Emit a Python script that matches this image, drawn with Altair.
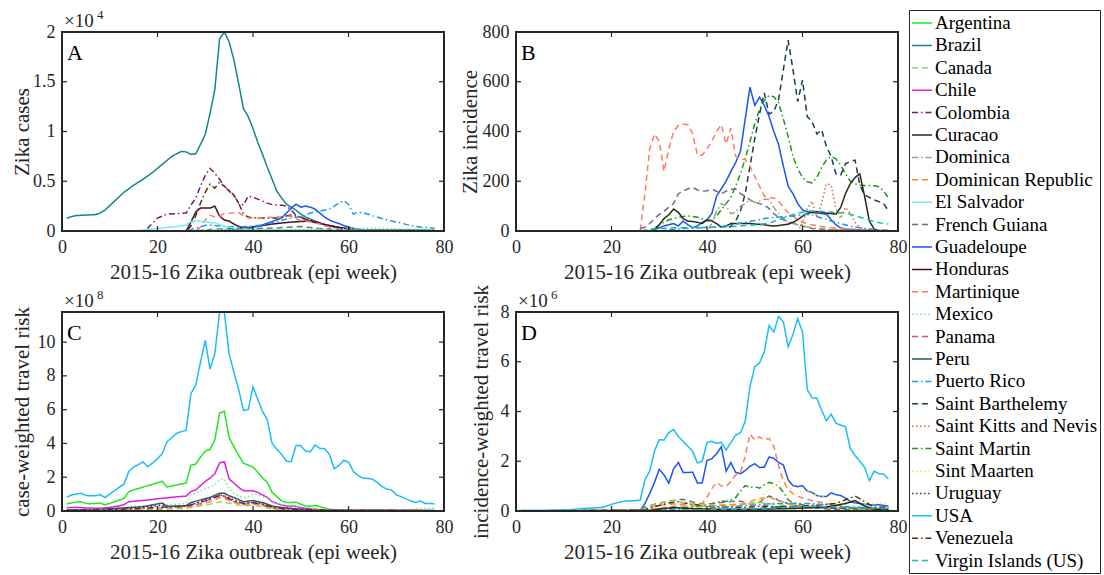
import altair as alt
import pandas as pd

FONT = "Liberation Serif"
INK = "#262626"
W, H = 382, 199

COUNTRIES = ["Argentina", "Brazil", "Canada", "Chile", "Colombia", "Curacao", "Dominica",
             "Dominican Republic", "El Salvador", "French Guiana", "Guadeloupe", "Honduras",
             "Martinique", "Mexico", "Panama", "Peru", "Puerto Rico", "Saint Barthelemy",
             "Saint Kitts and Nevis", "Saint Martin", "Sint Maarten", "Uruguay", "USA",
             "Venezuela", "Virgin Islands (US)"]
COLORS = ["#22e622", "#12878f", "#99d65a", "#e01fe0", "#7d1470", "#2a2a14", "#8fa882",
          "#ff8c1a", "#6ff0f0", "#786a86", "#1a55f0", "#4a0d24", "#ff7a66", "#66f099",
          "#d9507d", "#2e5e48", "#1a99f0", "#1a3d4f", "#c47a3a", "#199919", "#f5f033",
          "#4d2673", "#18bff5", "#5c2e0a", "#1ab8b3"]
SOLID, DASH, DOT, DASHDOT = [1, 0], [6, 4], [1.5, 2.5], [6, 3, 1.5, 3]
STYLES = [SOLID, SOLID, DASH, SOLID, DASHDOT, SOLID, DASHDOT, DASH, SOLID, DASH, SOLID, SOLID,
          DASH, DOT, DASH, SOLID, DASHDOT, DASH, DOT, DASHDOT, DOT, DOT, SOLID, DASHDOT, DASH]

X_TICKS = [0, 20, 40, 60, 80]

# ---------------- Panel A: Zika cases ----------------
A_BRAZIL = [(1,1270),(2,1450),(3,1550),(5,1600),(7,1650),(8,1800),(9,2100),(11,3000),(13,3900),(15,4600),
            (17,5200),(19,5900),(21,6700),(23,7500),(25,8000),(26,7950),(27,7700),(28,7750),(29,8700),
            (30,9700),(31,11800),(32,14200),(33,19300),(34,20000),(35,19000),(36,17200),(37,14800),
            (38,12300),(39,11500),(40,10300),(41,8900),(42,7700),(43,6400),(44,5200),(45,4000),(46,3300),
            (47,2700),(48,2400),(49,2100),(50,1700),(51,1400),(53,1000),(55,650),(57,420),(59,250),
            (61,150),(65,100),(70,80),(78,60)]
A_COLOMBIA = [(1,0),(17,0),(18,300),(19,800),(20,1300),(21,1500),(22,1700),(24,1750),(26,1800),(27,2600),
              (28,3300),(29,4500),(30,5600),(31,6300),(32,5800),(33,5200),(34,4500),(35,4000),(36,3600),
              (37,2800),(38,2600),(39,3500),(40,3400),(41,3200),(42,3000),(43,2800),(44,2650),(45,2600),
              (46,2600),(47,2500),(48,2100),(49,1600),(50,1300),(53,950),(55,650),(57,450),(59,250),
              (61,100),(78,30)]
A_VENEZUELA = [(1,0),(26,0),(27,500),(28,1500),(29,2800),(30,3900),(31,4700),(32,4300),(33,4900),(34,4500),
               (35,4100),(36,3600),(37,2800),(38,1700),(39,1400),(41,1300),(43,1300),(45,1300),(47,1500),
               (48,1600),(49,1500),(50,1400),(52,1000),(54,700),(56,450),(59,300),(62,150),(70,80),(78,50)]
A_HONDURAS = [(1,0),(26,0),(27,900),(28,1900),(29,2300),(30,2300),(31,2300),(32,2500),(33,1500),(34,1100),
              (35,1000),(36,700),(37,450),(38,300),(40,400),(42,550),(44,700),(46,800),(48,900),(50,950),
              (52,1000),(53,900),(55,650),(57,450),(59,300),(61,150),(65,80),(78,40)]
A_MARTINIQUE = [(1,0),(28,0),(29,400),(30,1100),(31,1600),(32,1400),(33,1500),(34,1750),(36,1800),(37,1850),
                (38,1500),(39,1300),(41,1300),(43,1350),(45,1400),(47,1450),(48,1500),(49,1200),(50,1050),
                (52,900),(54,700),(56,400),(58,200),(60,80),(78,20)]
A_GUADELOUPE = [(1,0),(33,0),(35,100),(38,250),(40,400),(42,600),(44,950),(46,1300),(47,1800),(48,2300),
                (49,2700),(50,2400),(51,2500),(52,2400),(53,2200),(54,1800),(55,1400),(56,1100),(57,900),
                (58,750),(59,550),(60,400),(62,150),(65,60),(78,20)]
A_PUERTO_RICO = [(1,0),(26,0),(28,300),(30,550),(31,600),(33,500),(36,400),(39,450),(42,600),(45,950),
                 (48,1300),(50,1450),(52,1800),(54,2000),(56,2200),(57,2500),(58,2800),(59,3050),(60,2700),
                 (61,1700),(62,1900),(63,1850),(65,1550),(67,1250),(69,1000),(71,800),(73,550),(75,400),(78,280)]
A_EL_SALVADOR = [(1,0),(15,0),(18,150),(21,300),(24,450),(26,600),(27,950),(28,1050),(30,900),(31,850),
                 (32,800),(33,650),(34,450),(36,250),(40,150),(50,100),(78,50)]
A_FRENCH_GUIANA = [(1,0),(28,0),(32,200),(40,250),(45,300),(48,400),(50,450),(52,350),(55,200),(60,100),(78,30)]
A_MEXICO = [(1,0),(25,0),(30,150),(40,150),(50,150),(55,200),(60,250),(65,280),(70,220),(75,200),(78,180)]

# ---------------- Panel B: Zika incidence ----------------
B_SAINT_BARTHELEMY = [(1,0),(44,0),(45,20),(46,40),(47,80),(48,150),(49,260),(50,370),(51,470),(52,555),
                      (53,470),(54,480),(55,530),(56,650),(57,767),(58,650),(59,520),(60,607),(61,460),
                      (62,440),(63,390),(64,407),(65,340),(66,300),(67,230),(68,225),(69,270),(70,280),
                      (71,285),(72,185),(73,145),(74,135),(75,125),(76,118),(77,110),(78,80)]
B_GUADELOUPE = [(1,0),(28,0),(29,5),(30,13),(31,20),(32,25),(33,30),(34,20),(35,40),(36,25),(37,13),(38,20),
                (39,35),(40,45),(41,70),(42,140),(43,170),(44,200),(45,240),(46,275),(47,320),(48,450),
                (49,578),(50,505),(51,538),(52,505),(53,460),(54,400),(55,347),(56,260),(57,180),(58,150),
                (59,110),(60,85),(61,78),(62,75),(63,72),(64,70),(65,68),(66,45),(67,25),(68,12),(70,5),(78,0)]
B_SAINT_MARTIN = [(1,0),(28,0),(29,10),(30,25),(31,35),(32,45),(33,50),(34,55),(35,58),(36,60),(37,58),
                  (38,55),(39,48),(40,40),(41,45),(42,60),(43,85),(44,110),(45,135),(46,180),(47,230),
                  (48,290),(49,360),(50,430),(51,490),(52,525),(53,545),(54,540),(55,515),(56,450),(57,380),
                  (58,300),(59,250),(60,215),(61,198),(62,193),(63,215),(64,255),(65,285),(66,300),(67,290),
                  (68,265),(69,230),(70,200),(71,190),(72,184),(73,183),(74,183),(75,182),(76,178),(77,160),(78,133)]
B_MARTINIQUE = [(1,0),(26,0),(27,150),(28,330),(29,390),(30,360),(31,240),(32,330),(33,400),(34,425),
                (35,430),(36,427),(37,390),(38,305),(39,305),(40,330),(41,360),(42,400),(43,427),(44,350),
                (45,413),(46,300),(47,290),(48,287),(49,260),(50,220),(51,180),(52,140),(53,133),(54,133),
                (55,120),(56,95),(57,75),(58,60),(59,45),(60,35),(62,25),(65,15),(70,8),(78,0)]
B_FRENCH_GUIANA = [(1,0),(25,0),(26,10),(27,15),(28,30),(29,50),(30,67),(31,80),(32,95),(33,110),(34,150),
                   (35,160),(36,170),(37,175),(38,165),(39,160),(40,162),(41,167),(42,160),(43,150),(44,160),
                   (45,167),(46,170),(47,150),(48,140),(49,125),(50,115),(51,110),(52,105),(53,90),(54,70),
                   (55,55),(56,45),(57,38),(58,33),(60,20),(62,10),(65,5),(78,0)]
B_DOMINICA = [(1,0),(40,0),(41,30),(42,80),(43,110),(44,100),(45,70),(46,75),(47,100),(48,110),(49,125),
              (50,115),(51,120),(52,128),(53,127),(54,95),(55,70),(56,50),(57,35),(58,30),(60,20),(63,10),
              (70,3),(78,0)]
B_CURACAO = [(1,0),(28,0),(29,5),(30,25),(31,50),(32,65),(33,88),(34,75),(35,50),(36,40),(37,38),(38,35),
             (39,30),(40,45),(41,40),(42,30),(43,16),(44,20),(45,30),(46,30),(47,30),(48,30),(49,30),(50,28),
             (51,27),(52,25),(53,22),(54,20),(55,22),(56,25),(57,27),(58,35),(59,45),(60,60),(61,70),(62,75),
             (63,78),(64,75),(65,72),(66,70),(67,68),(68,95),(69,150),(70,190),(71,215),(72,230),(73,140),
             (74,40),(75,8),(76,0),(78,0)]
B_PUERTO_RICO = [(1,0),(30,0),(32,5),(35,10),(38,12),(41,15),(44,20),(46,28),(48,35),(50,42),(52,50),
                 (54,55),(56,58),(58,60),(60,65),(61,67),(62,65),(63,58),(64,52),(66,40),(68,30),(70,20),
                 (72,13),(75,6),(78,3)]
B_VIRGIN_ISLANDS = [(1,0),(26,0),(28,8),(32,12),(36,14),(40,14),(44,16),(48,22),(51,26),(53,32),(55,45),
                    (57,60),(59,72),(61,80),(63,80),(65,77),(67,75),(69,72),(71,62),(73,50),(75,38),(77,30),(78,28)]
B_SAINT_KITTS = [(1,0),(59,0),(60,30),(61,90),(62,120),(63,55),(64,110),(65,190),(66,185),(67,90),(68,50),
                 (69,95),(70,70),(71,35),(72,15),(73,5),(78,0)]

# ---------------- Panel C: case-weighted travel risk (x 1e8) ----------------
C_USA = [(1,0.81),(2,0.95),(3,1.0),(4,1.05),(5,0.92),(6,0.9),(7,0.9),(8,0.97),(9,0.8),(10,1.0),(11,1.2),
         (12,1.4),(13,1.6),(14,2.35),(15,2.6),(16,2.75),(17,2.9),(18,2.62),(19,2.85),(20,3.1),(21,3.4),
         (22,4.1),(23,4.35),(24,4.6),(25,4.7),(26,4.78),(27,6.95),(28,7.45),(29,8.8),(30,10.1),(31,8.4),
         (32,9.3),(33,11.76),(34,11.76),(35,9.3),(36,8.2),(37,7.2),(38,5.95),(39,6.0),(40,7.35),(41,6.6),
         (42,5.9),(43,5.4),(44,4.0),(45,3.65),(46,3.35),(47,2.95),(48,2.92),(49,3.87),(50,3.87),(51,3.55),
         (52,3.5),(53,3.91),(54,3.7),(55,3.7),(56,3.35),(57,2.5),(58,2.7),(59,3.0),(60,2.9),(61,2.35),
         (62,2.1),(63,1.95),(64,1.93),(65,1.88),(66,1.7),(67,1.45),(68,1.3),(69,1.25),(70,0.95),(71,0.85),
         (72,0.72),(73,0.6),(74,0.5),(75,0.6),(76,0.45),(77,0.45),(78,0.43)]
C_ARGENTINA = [(1,0.42),(2,0.48),(3,0.52),(4,0.55),(5,0.45),(6,0.43),(7,0.45),(8,0.47),(9,0.36),(10,0.45),
               (11,0.55),(12,0.65),(13,0.75),(14,1.15),(15,1.25),(16,1.33),(17,1.42),(18,1.5),(19,1.58),
               (20,1.67),(21,1.76),(22,1.42),(23,1.48),(24,1.54),(25,1.6),(26,1.66),(27,2.7),(28,2.77),
               (29,3.2),(30,3.55),(31,3.65),(32,4.2),(33,5.8),(34,5.9),(35,4.35),(36,3.8),(37,3.3),(38,2.83),
               (39,2.72),(40,2.6),(41,2.3),(42,1.95),(43,1.7),(44,1.1),(45,0.85),(46,0.6),(47,0.5),(48,0.5),
               (49,0.52),(50,0.4),(51,0.3),(52,0.28),(53,0.33),(54,0.25),(55,0.18),(56,0.1),(58,0.05),
               (65,0.03),(78,0.02)]
C_CHILE = [(1,0.2),(3,0.22),(5,0.18),(8,0.16),(10,0.22),(12,0.3),(13,0.38),(14,0.55),(16,0.6),(18,0.65),
           (20,0.72),(22,0.78),(24,0.84),(26,0.88),(27,1.15),(28,1.25),(29,1.5),(30,1.75),(31,1.95),(32,2.2),
           (33,2.85),(34,2.92),(35,1.9),(36,1.65),(37,1.4),(38,1.2),(39,1.2),(40,1.2),(41,1.1),(42,0.95),
           (43,0.8),(44,0.55),(45,0.45),(46,0.35),(47,0.3),(48,0.3),(49,0.27),(50,0.2),(52,0.12),(54,0.08),
           (58,0.05),(78,0.03)]
C_MEXICO = [(1,0.08),(10,0.12),(15,0.28),(20,0.35),(25,0.42),(26,0.45),(27,0.95),(28,1.05),(29,1.2),
            (30,1.35),(31,1.4),(32,1.55),(33,1.85),(34,1.9),(35,1.3),(36,1.05),(37,0.9),(38,0.78),(39,0.85),
            (40,1.0),(41,0.95),(42,0.85),(43,0.75),(44,0.5),(45,0.42),(47,0.35),(49,0.3),(52,0.18),(55,0.1),
            (60,0.05),(70,0.05),(75,0.15),(78,0.18)]
C_PERU = [(1,0.06),(8,0.1),(14,0.2),(17,0.25),(20,0.42),(21,0.47),(22,0.28),(25,0.3),(26,0.32),(27,0.5),
          (29,0.65),(31,0.8),(33,1.05),(34,1.05),(35,0.9),(36,0.8),(38,0.55),(40,0.62),(42,0.5),(44,0.3),
          (46,0.2),(50,0.1),(55,0.05),(78,0.03)]
C_URUGUAY = [(1,0.05),(10,0.08),(15,0.18),(20,0.3),(21,0.35),(22,0.25),(26,0.3),(28,0.45),(30,0.65),
             (32,0.85),(33,0.95),(34,0.9),(36,0.65),(38,0.45),(40,0.5),(42,0.4),(44,0.25),(46,0.18),
             (48,0.15),(50,0.12),(55,0.06),(60,0.03),(78,0.02)]
C_PANAMA = [(1,0.02),(15,0.1),(20,0.15),(26,0.2),(28,0.35),(30,0.55),(32,0.85),(33,0.95),(34,0.85),
            (36,0.55),(38,0.4),(40,0.45),(42,0.35),(44,0.2),(46,0.1),(50,0.05),(78,0.02)]
C_DOMINICAN = [(1,0.02),(15,0.08),(20,0.12),(26,0.18),(28,0.3),(30,0.45),(32,0.65),(33,0.8),(34,0.75),
               (36,0.5),(38,0.35),(40,0.4),(42,0.3),(44,0.15),(46,0.08),(50,0.04),(78,0.02)]
C_CANADA = [(1,0.02),(15,0.06),(20,0.1),(26,0.15),(28,0.25),(30,0.35),(32,0.45),(33,0.55),(34,0.52),
            (36,0.4),(38,0.3),(40,0.35),(42,0.25),(44,0.12),(46,0.06),(50,0.03),(78,0.02)]
C_COLOMBIA = [(1,0.04),(15,0.12),(20,0.22),(26,0.28),(28,0.45),(30,0.6),(32,0.8),(33,0.9),(34,0.88),
              (36,0.6),(38,0.45),(40,0.5),(42,0.4),(44,0.22),(46,0.15),(50,0.08),(60,0.03),(78,0.02)]

# ---------------- Panel D: incidence-weighted travel risk (x 1e6) ----------------
D_USA = [(1,0.03),(5,0.03),(9,0.04),(12,0.06),(14,0.1),(16,0.12),(18,0.14),(19,0.2),(20,0.27),(21,0.32),
         (22,0.37),(23,0.4),(24,0.41),(25,0.42),(26,0.43),(27,1.25),(28,1.6),(29,2.4),(30,2.87),(31,2.85),
         (32,3.15),(33,3.28),(34,3.0),(35,2.8),(36,2.6),(37,2.4),(38,1.93),(39,2.0),(40,2.75),(41,2.8),
         (42,2.72),(43,2.76),(44,2.45),(45,2.75),(46,3.05),(47,3.15),(48,3.6),(49,5.0),(50,5.8),(51,5.95),
         (52,6.4),(53,7.46),(54,7.2),(55,7.82),(56,7.6),(57,6.6),(58,7.1),(59,7.73),(60,7.2),(61,4.88),
         (62,4.55),(63,4.54),(64,4.05),(65,3.63),(66,3.89),(67,3.53),(68,3.45),(69,3.39),(70,2.51),
         (71,2.24),(72,2.0),(73,1.76),(74,1.22),(75,1.6),(76,1.5),(77,1.48),(78,1.29)]
D_GUADELOUPE = [(1,0),(26,0),(27,0.3),(28,0.7),(29,1.15),(30,1.67),(31,1.45),(32,1.12),(33,1.69),(34,1.95),
                (35,1.55),(36,1.55),(37,1.56),(38,1.12),(39,1.13),(40,2.03),(41,2.1),(42,2.3),(43,2.58),
                (44,1.6),(45,1.95),(46,1.55),(47,1.5),(48,1.62),(49,1.8),(50,1.9),(51,1.75),(52,1.76),
                (53,2.17),(54,2.12),(55,1.95),(56,1.85),(57,1.25),(58,1.02),(59,0.98),(60,1.02),(61,0.8),
                (62,0.75),(63,0.62),(64,0.58),(65,0.58),(66,0.73),(67,0.66),(68,0.62),(69,0.52),(70,0.38),
                (71,0.33),(72,0.3),(73,0.27),(74,0.25),(75,0.24),(76,0.25),(77,0.22),(78,0.2)]
D_MARTINIQUE = [(1,0),(26,0),(27,0.07),(29,0.2),(31,0.25),(33,0.28),(35,0.27),(37,0.24),(39,0.3),(40,0.55),
                (41,0.9),(42,1.15),(43,1.0),(44,0.98),(45,1.2),(46,1.45),(47,1.55),(48,2.2),(49,3.09),
                (50,2.85),(51,2.98),(52,2.86),(53,2.92),(54,2.6),(55,1.8),(56,1.2),(57,0.85),(58,0.7),
                (59,0.6),(60,0.52),(62,0.42),(64,0.34),(66,0.26),(68,0.2),(70,0.14),(74,0.1),(78,0.08)]
D_SAINT_MARTIN = [(1,0),(28,0),(30,0.09),(33,0.12),(37,0.16),(40,0.25),(42,0.33),(43,0.42),(44,0.38),
                  (45,0.45),(46,0.54),(47,0.8),(48,1.02),(49,0.95),(50,0.98),(51,0.92),(52,1.05),(53,1.15),
                  (54,1.1),(55,1.0),(56,0.75),(57,0.45),(58,0.32),(60,0.25),(62,0.2),(65,0.14),(70,0.08),(78,0.05)]
D_SINT_MAARTEN = [(1,0),(44,0),(46,0.03),(48,0.08),(49,0.14),(50,0.3),(51,0.45),(52,0.7),(53,0.85),
                  (54,1.0),(55,1.15),(56,1.36),(57,1.05),(58,0.75),(59,0.7),(60,0.8),(61,0.78),(62,0.7),
                  (63,0.62),(64,0.58),(66,0.45),(68,0.34),(70,0.18),(72,0.2),(74,0.28),(76,0.34),(78,0.28)]
D_FRENCH_GUIANA = [(1,0),(25,0.05),(27,0.15),(29,0.27),(31,0.35),(33,0.42),(35,0.47),(37,0.36),(39,0.28),
                   (41,0.3),(43,0.34),(45,0.38),(47,0.4),(49,0.28),(51,0.35),(53,0.6),(54,0.55),(55,0.42),
                   (57,0.3),(59,0.2),(61,0.14),(65,0.08),(70,0.05),(78,0.03)]
D_VENEZUELA = [(1,0),(26,0.03),(28,0.12),(30,0.22),(32,0.32),(34,0.38),(36,0.3),(38,0.25),(40,0.2),
               (44,0.15),(48,0.15),(52,0.2),(56,0.15),(60,0.2),(64,0.25),(67,0.3),(69,0.45),(71,0.6),
               (72,0.5),(73,0.38),(75,0.15),(78,0.16)]
D_CANADA = [(1,0),(26,0.03),(29,0.25),(31,0.37),(33,0.4),(35,0.34),(38,0.28),(41,0.24),(44,0.25),
            (47,0.28),(51,0.34),(53,0.3),(55,0.24),(60,0.15),(70,0.1),(78,0.07)]
D_DOMINICAN = [(1,0),(26,0.02),(30,0.12),(34,0.2),(40,0.2),(45,0.24),(48,0.28),(50,0.45),(52,0.52),
               (53,0.55),(55,0.42),(58,0.24),(62,0.16),(70,0.12),(78,0.07)]
D_PUERTO_RICO = [(1,0),(27,0.02),(32,0.06),(38,0.1),(44,0.16),(50,0.24),(54,0.3),(60,0.3),(62,0.3),
                 (65,0.24),(70,0.16),(75,0.12),(78,0.11)]
D_CURACAO = [(1,0),(28,0.03),(31,0.1),(33,0.14),(36,0.1),(42,0.07),(50,0.07),(58,0.1),(65,0.16),
             (69,0.3),(71,0.42),(73,0.2),(75,0.07),(78,0.05)]
D_SAINT_BARTHELEMY = [(1,0),(44,0),(48,0.05),(52,0.12),(56,0.18),(60,0.16),(66,0.12),(72,0.12),(78,0.08)]
D_VIRGIN_ISLANDS = [(1,0),(28,0.02),(40,0.05),(50,0.08),(56,0.14),(62,0.18),(66,0.17),(72,0.13),(78,0.09)]

SERIES = {
    "A": [("Brazil", A_BRAZIL), ("Colombia", A_COLOMBIA), ("Venezuela", A_VENEZUELA),
          ("Honduras", A_HONDURAS), ("Martinique", A_MARTINIQUE), ("Guadeloupe", A_GUADELOUPE),
          ("Puerto Rico", A_PUERTO_RICO), ("El Salvador", A_EL_SALVADOR),
          ("French Guiana", A_FRENCH_GUIANA), ("Mexico", A_MEXICO)],
    "B": [("Saint Barthelemy", B_SAINT_BARTHELEMY), ("Guadeloupe", B_GUADELOUPE),
          ("Saint Martin", B_SAINT_MARTIN), ("Martinique", B_MARTINIQUE),
          ("French Guiana", B_FRENCH_GUIANA), ("Dominica", B_DOMINICA), ("Curacao", B_CURACAO),
          ("Puerto Rico", B_PUERTO_RICO), ("Virgin Islands (US)", B_VIRGIN_ISLANDS),
          ("Saint Kitts and Nevis", B_SAINT_KITTS)],
    "C": [("USA", C_USA), ("Argentina", C_ARGENTINA), ("Chile", C_CHILE), ("Mexico", C_MEXICO),
          ("Peru", C_PERU), ("Uruguay", C_URUGUAY), ("Panama", C_PANAMA),
          ("Dominican Republic", C_DOMINICAN), ("Canada", C_CANADA), ("Colombia", C_COLOMBIA)],
    "D": [("USA", D_USA), ("Guadeloupe", D_GUADELOUPE), ("Martinique", D_MARTINIQUE),
          ("Saint Martin", D_SAINT_MARTIN), ("Sint Maarten", D_SINT_MAARTEN),
          ("French Guiana", D_FRENCH_GUIANA), ("Venezuela", D_VENEZUELA), ("Canada", D_CANADA),
          ("Dominican Republic", D_DOMINICAN), ("Puerto Rico", D_PUERTO_RICO),
          ("Curacao", D_CURACAO), ("Saint Barthelemy", D_SAINT_BARTHELEMY),
          ("Virgin Islands (US)", D_VIRGIN_ISLANDS)],
}

LEGEND = alt.Legend(
    title=None, orient="none", legendX=847, legendY=-22, symbolType="stroke",
    symbolSize=400, symbolStrokeWidth=1.5, labelFont=FONT, labelFontSize=19,
    labelColor="black", strokeColor=INK, fillColor="white", padding=2,
    rowPadding=1.4, labelOffset=2, labelLimit=400, offset=0,
)


def panel(key, ymax, yticks, ytitle, title_x, letter, exponent, label_expr=None):
    rows = [{"country": c, "week": w, "value": v} for c, pts in SERIES[key] for (w, v) in pts]
    df = pd.DataFrame(rows)
    yaxis_kw = dict(values=yticks, title=ytitle, titleX=title_x, titleY=H / 2,
                    titleAlign="center", titleBaseline="alphabetic", titleAngle=270)
    if label_expr:
        yaxis_kw["labelExpr"] = label_expr
    xaxis = alt.Axis(values=X_TICKS, title="2015-16 Zika outbreak (epi week)",
                     titleX=W / 2, titleY=47, titleBaseline="alphabetic")
    yaxis = alt.Axis(**yaxis_kw)
    xscale = alt.Scale(domain=[0, 80], nice=False, zero=False)
    yscale = alt.Scale(domain=[0, ymax], nice=False, zero=True)
    X = lambda: alt.X("week:Q", scale=xscale, axis=xaxis)
    Y = lambda: alt.Y("value:Q", scale=yscale, axis=yaxis)
    lines = alt.Chart(df).mark_line(strokeWidth=1.5).encode(
        x=X(), y=Y(),
        color=alt.Color("country:N", scale=alt.Scale(domain=COUNTRIES, range=COLORS), legend=LEGEND),
        strokeDash=alt.StrokeDash("country:N", scale=alt.Scale(domain=COUNTRIES, range=STYLES),
                                  legend=LEGEND),
    )
    xt = alt.Chart(pd.DataFrame({"week": X_TICKS})).mark_rule(color=INK, strokeWidth=1.2)
    yt = alt.Chart(pd.DataFrame({"value": yticks})).mark_rule(color=INK, strokeWidth=1.2)
    xbot = xt.encode(x=X(), y=alt.value(H), y2=alt.value(H - 5))
    xtop = xt.encode(x=X(), y=alt.value(0), y2=alt.value(5))
    yleft = yt.encode(y=Y(), x=alt.value(0), x2=alt.value(5))
    yright = yt.encode(y=Y(), x=alt.value(W), x2=alt.value(W - 5))
    box = alt.Chart(pd.DataFrame({"t": [0]})).mark_rect(
        fill="transparent", stroke=INK, strokeWidth=2
    ).encode(x=alt.value(0), x2=alt.value(W), y=alt.value(0), y2=alt.value(H))
    let = alt.Chart(pd.DataFrame({"t": [letter]})).mark_text(
        align="left", baseline="alphabetic", font=FONT, fontSize=22, color="black"
    ).encode(x=alt.value(5), y=alt.value(28), text="t:N")
    layers = [lines, xbot, xtop, yleft, yright, box, let]
    if exponent:
        e1 = alt.Chart(pd.DataFrame({"t": ["×10"]})).mark_text(
            align="left", baseline="alphabetic", font=FONT, fontSize=19, color=INK
        ).encode(x=alt.value(2), y=alt.value(-5), text="t:N")
        e2 = alt.Chart(pd.DataFrame({"t": [exponent]})).mark_text(
            align="left", baseline="alphabetic", font=FONT, fontSize=13, color=INK
        ).encode(x=alt.value(35), y=alt.value(-13), text="t:N")
        layers += [e1, e2]
    return alt.layer(*layers).properties(width=W, height=H)


pa = panel("A", 20000, [0, 5000, 10000, 15000, 20000], "Zika cases", -34, "A", "4",
           "datum.value / 10000")
pb = panel("B", 800, [0, 200, 400, 600, 800], "Zika incidence", -40, "B", None)
pc = panel("C", 11.78, [0, 2, 4, 6, 8, 10], "case-weighted travel risk", -34, "C", "8")
pd_ = panel("D", 8, [0, 2, 4, 6, 8], "incidence-weighted travel risk", -29, "D", "6")

chart = alt.concat(pa, pb, pc, pd_, columns=2, spacing={"row": 81, "column": 72},
                   bounds="flush").properties(
    padding={"left": 10, "top": 9, "right": 0, "bottom": 0}, background="white"
).configure_view(stroke=None).configure_axis(
    labelFont=FONT, labelFontSize=18, labelColor=INK, labelPadding=7, labelFlush=False,
    labelOverlap=False, ticks=False, domain=False, grid=False,
    titleFont=FONT, titleFontSize=21, titleFontWeight="normal", titleColor=INK,
)

chart.save("out.html", embed_options={"renderer": "svg", "actions": False})
